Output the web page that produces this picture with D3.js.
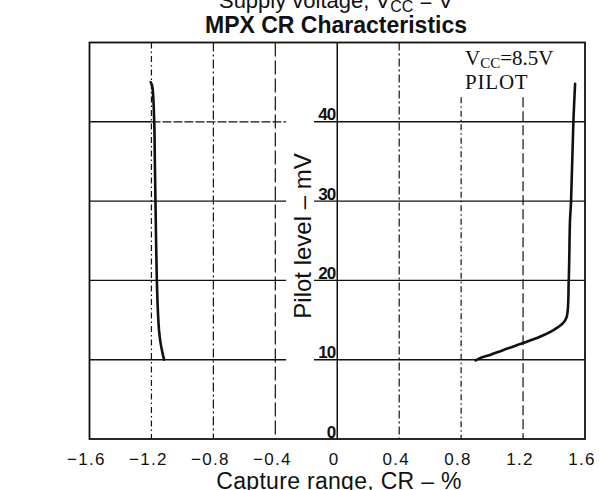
<!DOCTYPE html>
<html>
<head>
<meta charset="utf-8">
<script src="https://cdn.jsdelivr.net/npm/d3@7"></script>
<style>
  html, body { margin: 0; padding: 0; background: #fff; }
  svg { display: block; }
</style>
</head>
<body>
<svg id="chart" width="604" height="490"></svg>
<script>
// ---- data ----
const xTicks = [-1.6, -1.2, -0.8, -0.4, 0, 0.4, 0.8, 1.2, 1.6];
const xTickLabels = ["\u22121.6", "\u22121.2", "\u22120.8", "\u22120.4", "0", "0.4", "0.8", "1.2", "1.6"];
const yTicks = [0, 10, 20, 30, 40];
const yTickLabels = ["0", "10", "20", "30", "40"];
const gridX = [-1.2, -0.8, -0.4, 0.4, 0.8, 1.2];

// left branch (negative capture range)
const leftCR    = [-1.205, -1.195, -1.182, -1.178, -1.174, -1.170, -1.165, -1.158, -1.150, -1.140, -1.128, -1.118];
const leftLevel = [45, 44.5, 40, 35, 30, 25, 20, 16, 13.5, 12, 10.8, 10];

// right branch (positive capture range)
const rightCR    = [1.536, 1.525, 1.510, 1.503, 1.495, 1.482, 1.458, 1.393, 1.309, 1.200, 1.070, 0.987, 0.922, 0.894];
const rightLevel = [44.8, 40, 30, 27.5, 20, 15.4, 14.6, 13.7, 12.9, 12.1, 11.2, 10.6, 10.2, 9.9];

const titleLine1 = "Supply voltage, V";
const titleSub = "CC";
const titleLine1b = " = V";
const title = "MPX CR Characteristics";
const xTitle = "Capture range, CR \u2013 %";
const yTitle = "Pilot level \u2013 mV";

// ---- layout ----
const L = 89.5, R = 585, T = 42.5, B = 439;
const svg = d3.select("#chart");
const x = d3.scaleLinear().domain([-1.6, 1.6]).range([L, R]);
const y = d3.scaleLinear().domain([0, 50]).range([B, T]);

const ink = "#111";
const sans = "Liberation Sans, Arial, sans-serif";
const serif = "Liberation Serif, Times New Roman, serif";

// vertical grid lines
const dashes = {"-1.2": "6,3,1.5,3", "-0.8": "9,3,2,3", "-0.4": "14,4", "0.4": "8,3,2,3", "0.8": "6,3,1.5,3", "1.2": "10,4"};
const topLimit = {"0.8": 43.1, "1.2": 43.1};
svg.append("g").selectAll("line").data(gridX).join("line")
  .attr("x1", d => x(d)).attr("x2", d => x(d))
  .attr("y1", d => y(topLimit[d] !== undefined ? topLimit[d] : 50))
  .attr("y2", y(0))
  .attr("stroke", ink).attr("stroke-width", 1.2)
  .attr("stroke-dasharray", d => dashes[String(d)]);

// horizontal grid lines (gap around the axis title)
const leftEnd = -0.33, rightStart = -0.15;
const hg = svg.append("g");
const hLines = yTicks.filter(d => d > 0);
hg.selectAll("line.l").data(hLines).join("line")
  .attr("class", "l")
  .attr("x1", x(-1.6)).attr("x2", d => d === 40 ? x(-1.2) : x(leftEnd))
  .attr("y1", d => y(d)).attr("y2", d => y(d))
  .attr("stroke", ink).attr("stroke-width", 1.4);
// the 40 line continues dashed on the left half
hg.append("line")
  .attr("x1", x(-1.2)).attr("x2", x(leftEnd))
  .attr("y1", y(40)).attr("y2", y(40))
  .attr("stroke", ink).attr("stroke-width", 1.3)
  .attr("stroke-dasharray", "9,2");
hg.selectAll("line.r").data(hLines).join("line")
  .attr("class", "r")
  .attr("x1", x(rightStart)).attr("x2", x(1.6))
  .attr("y1", d => y(d)).attr("y2", d => y(d))
  .attr("stroke", ink).attr("stroke-width", 1.4);

// zero axis
svg.append("line")
  .attr("x1", x(0)).attr("x2", x(0)).attr("y1", y(50)).attr("y2", y(0))
  .attr("stroke", ink).attr("stroke-width", 1.5);

// frame
svg.append("rect")
  .attr("x", L).attr("y", T).attr("width", R - L).attr("height", B - T)
  .attr("fill", "none").attr("stroke", ink).attr("stroke-width", 1.8);

// y tick labels (inside, left of zero axis)
svg.append("g").selectAll("text").data(yTicks).join("text")
  .attr("x", x(0) - 2).attr("y", d => y(d) - 1.5)
  .attr("text-anchor", "end")
  .attr("font-family", sans)
  .attr("font-size", 17).attr("font-weight", "bold")
  .attr("letter-spacing", -1)
  .attr("fill", ink)
  .text((d, i) => yTickLabels[i]);

// x tick labels
svg.append("g").selectAll("text").data(xTicks).join("text")
  .attr("x", d => x(d) - 3).attr("y", 465)
  .attr("text-anchor", "middle")
  .attr("font-family", sans)
  .attr("font-size", 17)
  .attr("letter-spacing", 1.3)
  .attr("fill", ink)
  .text((d, i) => xTickLabels[i]);

// axis titles
svg.append("text")
  .attr("x", 339).attr("y", 489)
  .attr("text-anchor", "middle")
  .attr("font-family", sans)
  .attr("font-size", 23).attr("letter-spacing", 0.3).attr("fill", ink)
  .text(xTitle);

svg.append("text")
  .attr("transform", "translate(311,236) rotate(-90)")
  .attr("text-anchor", "middle")
  .attr("font-family", sans)
  .attr("font-size", 24).attr("fill", ink)
  .text(yTitle);

// titles
const t1 = svg.append("text")
  .attr("x", 336).attr("y", 8)
  .attr("text-anchor", "middle")
  .attr("font-family", sans)
  .attr("font-size", 22).attr("fill", ink);
t1.append("tspan").text(titleLine1);
t1.append("tspan").attr("font-size", 16).attr("dy", 4).text(titleSub);
t1.append("tspan").attr("dy", -4).text(titleLine1b);

svg.append("text")
  .attr("x", 336).attr("y", 33)
  .attr("text-anchor", "middle")
  .attr("font-family", sans)
  .attr("font-size", 23).attr("font-weight", "bold").attr("fill", ink)
  .text(title);

// annotation
const ann = svg.append("text")
  .attr("x", 465).attr("y", 65)
  .attr("font-family", serif)
  .attr("font-size", 21).attr("fill", ink);
ann.append("tspan").text("V");
ann.append("tspan").attr("font-size", 15).attr("dy", 3).text("CC");
ann.append("tspan").attr("dy", -3).text("=8.5V");
svg.append("text")
  .attr("x", 465).attr("y", 89)
  .attr("font-family", serif)
  .attr("font-size", 21).attr("letter-spacing", 0.8).attr("fill", ink)
  .text("PILOT");

// curves
const lineGen = d3.line().x(d => x(d[0])).y(d => y(d[1])).curve(d3.curveCatmullRom.alpha(0.5));
const leftPts = leftCR.map((v, i) => [v, leftLevel[i]]);
const rightPts = rightCR.map((v, i) => [v, rightLevel[i]]);
[leftPts, rightPts].forEach(pts => {
  svg.append("path")
    .attr("d", lineGen(pts))
    .attr("fill", "none").attr("stroke", ink).attr("stroke-width", 2.6)
    .attr("stroke-linejoin", "round").attr("stroke-linecap", "round");
});
</script>
</body>
</html>
